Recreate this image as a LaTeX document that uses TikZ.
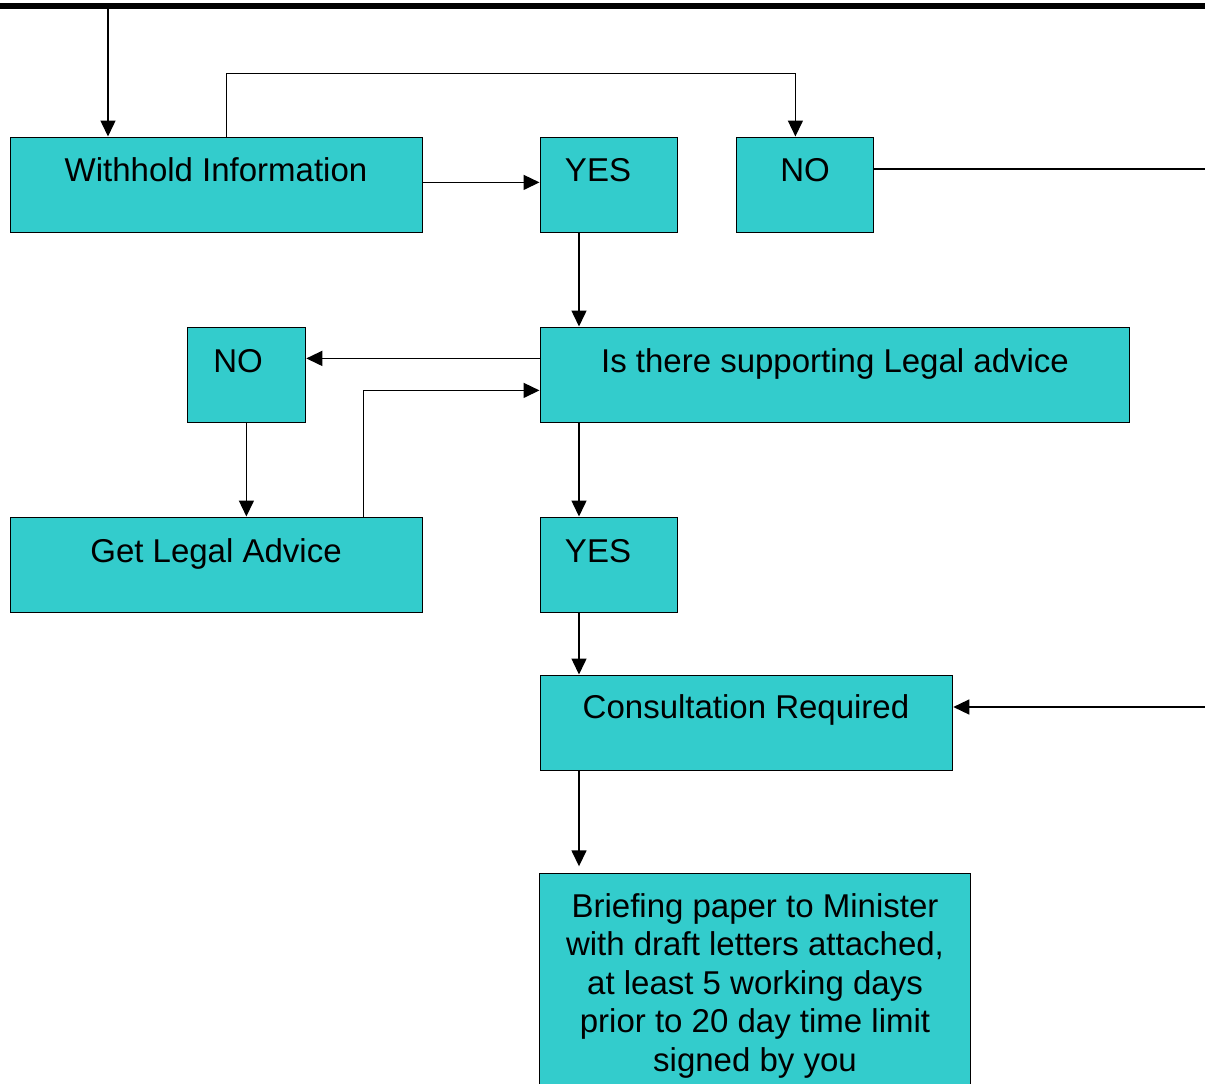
\documentclass[tikz,border=0pt]{standalone}
\usepackage{fontspec}
\setmainfont{Liberation Sans}
\usetikzlibrary{arrows.meta}
\definecolor{boxteal}{RGB}{51,204,204}
\begin{document}
\begin{tikzpicture}[x=1pt,y=-1pt,
  box/.style={draw=black, line width=1.8pt, fill=boxteal, inner sep=0pt,
              anchor=north west, minimum height=95pt},
  lbl/.style={anchor=base, font=\fontsize{33}{38.5}\selectfont, inner sep=0pt},
  para/.style={anchor=north, align=center, font=\fontsize{33}{38.5}\selectfont, inner sep=0pt},
  conn/.style={line width=1.5pt},
  arr/.style={conn, -{Triangle[length=16pt,width=15pt]}}]
\clip (0,0) rectangle (1205,1084);

% boxes
\node[box, minimum width=412pt] (withhold) at (9.5,136.5) {};
\node[box, minimum width=137pt] (yes1) at (539.5,136.5) {};
\node[box, minimum width=137pt] (no1) at (735.5,136.5) {};
\node[box, minimum width=589pt] (legal) at (539.5,326.5) {};
\node[box, minimum width=118pt] (no2) at (186.5,326.5) {};
\node[box, minimum width=412pt] (getlegal) at (9.5,516.5) {};
\node[box, minimum width=137pt] (yes2) at (539.5,516.5) {};
\node[box, minimum width=412pt] (consult) at (539.5,674.5) {};
\node[box, minimum width=431pt, minimum height=260pt] (brief) at (538.5,872.5) {};

% labels
\node[lbl] (twithhold) at (216,181) {Withhold Information};
\node[lbl] (tyes1) at (598,181) {YES};
\node[lbl] (tno1) at (805,181) {NO};
\node[lbl] (tlegal) at (835,372) {Is there supporting Legal advice};
\node[lbl] (tno2) at (238,372) {NO};
\node[lbl] (tgetlegal) at (216,562) {Get Legal Advice};
\node[lbl] (tyes2) at (598,562) {YES};
\node[lbl] (tconsult) at (746,718) {Consultation Required};
\node[para] (tbrief) at (755,893) {Briefing paper to Minister\\with draft letters attached,\\at least 5 working days\\prior to 20 day time limit\\signed by you};

% page rule and off-page ends
\coordinate (barL) at (0,6);
\coordinate (barR) at (1205,6);
\draw[line width=5.5pt] (barL) -- (barR);
\coordinate (in1) at (108,6);
\coordinate (outR1) at (1205,169);
\coordinate (outR2) at (1205,707);
\coordinate (colA) at (579,0);

% connectors
\draw[arr] (in1) -- (in1 |- withhold.north);
\draw[arr] ([xshift=10pt]withhold.north) -- ++(0,-63) -| ([xshift=-9.5pt]no1.north);
\draw[arr] ([yshift=2.5pt]withhold.east) -- ([yshift=2.5pt]yes1.west);
\draw[conn] (no1.east |- outR1) -- (outR1);
\draw[arr] (yes1.south -| colA) -- (legal.north -| colA);
\draw[arr] ([yshift=16.5pt]legal.west) -- ([yshift=16.5pt]no2.east);
\draw[arr] (no2.south) -- (no2.south |- getlegal.north);
\draw[arr] ([xshift=147pt]getlegal.north) |- ([yshift=-15.5pt]legal.west);
\draw[arr] (legal.south -| colA) -- (yes2.north -| colA);
\draw[arr] (yes2.south -| colA) -- (consult.north -| colA);
\draw[arr] (outR2) -- (consult.east |- outR2);
\draw[arr] (consult.south -| colA) -- ++(0,95);
\end{tikzpicture}
\end{document}
